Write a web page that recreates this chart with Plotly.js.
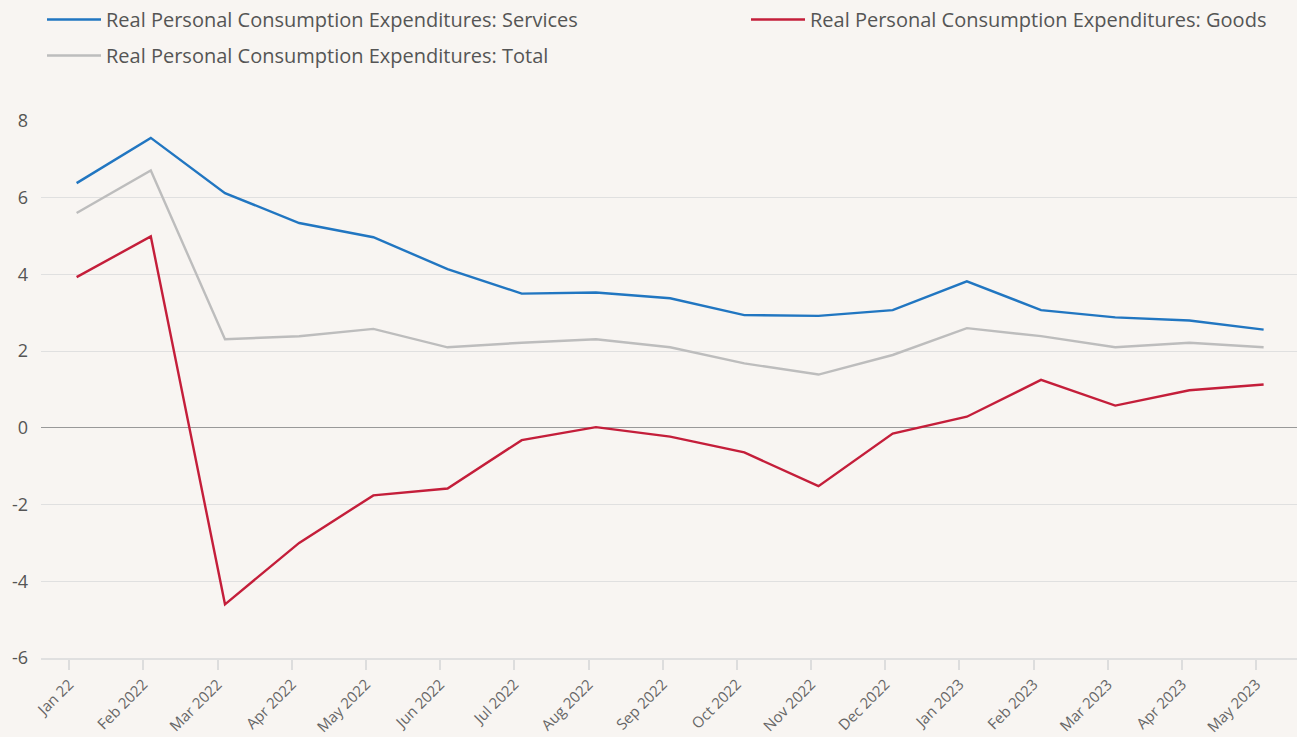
<!DOCTYPE html>
<html>
<head>
<meta charset="utf-8">
<script src="https://cdn.plot.ly/plotly-3.0.1.min.js"></script>
<style>html,body{margin:0;padding:0;background:#f8f5f2;}#chart{width:1297px;height:737px;}</style>
</head>
<body>
<div id="chart"></div>
<script>
const months = ["Jan 22","Feb 2022","Mar 2022","Apr 2022","May 2022","Jun 2022","Jul 2022","Aug 2022","Sep 2022","Oct 2022","Nov 2022","Dec 2022","Jan 2023","Feb 2023","Mar 2023","Apr 2023","May 2023"];
const services = [6.38,7.56,6.12,5.34,4.97,4.14,3.50,3.53,3.38,2.94,2.92,3.07,3.82,3.07,2.88,2.80,2.56];
const goods = [3.93,4.99,-4.60,-3.00,-1.76,-1.58,-0.32,0.02,-0.23,-0.64,-1.52,-0.15,0.29,1.25,0.58,0.98,1.13];
const total = [5.60,6.71,2.31,2.39,2.58,2.10,2.22,2.31,2.10,1.68,1.39,1.90,2.60,2.39,2.10,2.22,2.10];
const yTicks = [-6,-4,-2,0,2,4,6,8];
const yTickText = ["-6","-4","-2","0","2","4","6","8"];

const shift = 0.1; // points sit slightly right of their tick
const idx = months.map((m,i)=>i);
const xs = idx.map(i=>i+shift);

const font = "'Open Sans', sans-serif";
const traces = [
  {x: xs, y: services, name: "Real Personal Consumption Expenditures: Services", type: "scatter", mode: "lines",
   line: {color: "#2176c1", width: 2.4}, legend: "legend", legendgroup: "a"},
  {x: xs, y: goods, name: "Real Personal Consumption Expenditures: Goods", type: "scatter", mode: "lines",
   line: {color: "#c41e3a", width: 2.4}, legend: "legend2"},
  {x: xs, y: total, name: "Real Personal Consumption Expenditures: Total", type: "scatter", mode: "lines",
   line: {color: "#bdbdbd", width: 2.4}, legend: "legend", legendgroup: "b"}
];
const legFont = {size: 20, color: "#555"};
const layout = {
  width: 1297, height: 737,
  paper_bgcolor: "#f8f5f2", plot_bgcolor: "#f8f5f2",
  margin: {l: 41, r: 0, t: 121, b: 79, autoexpand: false},
  font: {family: font, color: "#555"},
  showlegend: true,
  legend: {orientation: "v", x: 42/1297, xref: "container", xanchor: "left", y: 1, yanchor: "top", yref: "container",
           font: legFont, bgcolor: "rgba(0,0,0,0)", itemwidth: 54, tracegroupgap: 7},
  legend2: {orientation: "v", x: 746/1297, xref: "container", xanchor: "left", y: 1, yanchor: "top", yref: "container",
           font: legFont, bgcolor: "rgba(0,0,0,0)", itemwidth: 54},
  xaxis: {range: [-0.38, 16.55], tickmode: "array", tickvals: idx, ticktext: months, tickangle: -45,
          ticks: "outside", ticklen: 10, tickcolor: "#ddd", tickwidth: 1.5, automargin: false,
          showgrid: false, zeroline: false, showline: true, linecolor: "#e0e0e0", linewidth: 1.5,
          tickfont: {size: 15, color: "#666"}, ticklabelstandoff: 0},
  yaxis: {range: [-6, 8], tickmode: "array", tickvals: yTicks, ticktext: yTickText, showgrid: true, gridcolor: "#e0e0e0", gridwidth: 1.3,
          zeroline: true, zerolinecolor: "#999", zerolinewidth: 1.3, automargin: false,
          tickfont: {size: 18, color: "#555"}, ticks: "", ticklabelstandoff: 12}
};
Plotly.newPlot("chart", traces, layout, {displayModeBar: false});
</script>
</body>
</html>
